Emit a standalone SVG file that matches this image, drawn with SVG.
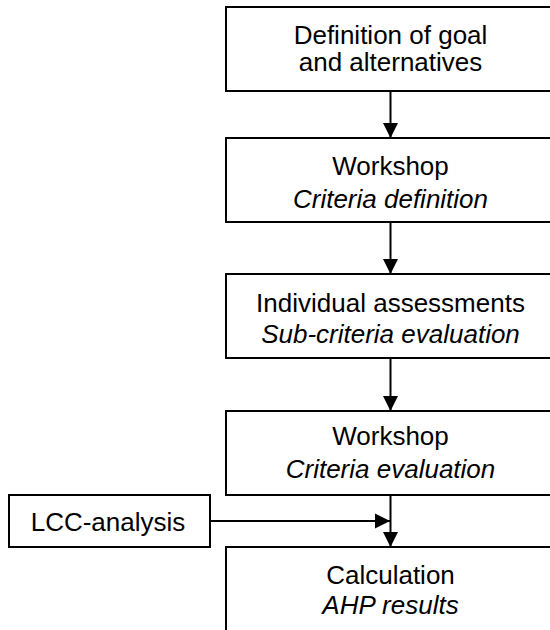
<svg xmlns="http://www.w3.org/2000/svg" width="550" height="630" viewBox="0 0 550 630">
<style>
.box{fill:#fff;stroke:#000;stroke-width:2}
.t{font-family:"Liberation Sans",Arial,sans-serif;font-size:26px;fill:#000;text-anchor:middle}
.i{font-style:italic}
.c{stroke:#000;stroke-width:2;fill:none}
</style>
<defs>
<marker id="ah" markerUnits="userSpaceOnUse" markerWidth="16" markerHeight="16" viewBox="0 0 16 16" refX="15" refY="8" orient="auto">
<path d="M0,0.5 L15,8 L0,15.5 Z" fill="#000"/>
</marker>
</defs>
<rect width="550" height="630" fill="#fff"/>
<g id="connectors">
<line class="c" x1="390.5" y1="91" x2="390.5" y2="138" marker-end="url(#ah)"/>
<line class="c" x1="390.5" y1="222" x2="390.5" y2="274" marker-end="url(#ah)"/>
<line class="c" x1="390.5" y1="358" x2="390.5" y2="411" marker-end="url(#ah)"/>
<line class="c" x1="390.5" y1="495" x2="390.5" y2="547" marker-end="url(#ah)"/>
<line class="c" x1="210" y1="521" x2="390" y2="521" marker-end="url(#ah)"/>
</g>
<g id="n1">
<rect class="box" x="226" y="7" width="330" height="84"/>
<text class="t" x="390.5" y="44">Definition of goal</text>
<text class="t" x="390.5" y="71">and alternatives</text>
</g>
<g id="n2">
<rect class="box" x="226" y="138" width="330" height="84"/>
<text class="t" x="390.5" y="175">Workshop</text>
<text class="t i" x="390.5" y="208">Criteria definition</text>
</g>
<g id="n3">
<rect class="box" x="226" y="274" width="330" height="84"/>
<text class="t" x="390.5" y="312">Individual assessments</text>
<text class="t i" x="390.5" y="343">Sub-criteria evaluation</text>
</g>
<g id="n4">
<rect class="box" x="226" y="411" width="330" height="84"/>
<text class="t" x="390.5" y="445">Workshop</text>
<text class="t i" x="390.5" y="478">Criteria evaluation</text>
</g>
<g id="n5">
<rect class="box" x="226" y="547" width="330" height="90"/>
<text class="t" x="390.5" y="584">Calculation</text>
<text class="t i" x="390.5" y="614">AHP results</text>
</g>
<g id="lcc">
<rect class="box" x="9" y="495" width="201" height="52"/>
<text class="t" x="108" y="530.5">LCC-analysis</text>
</g>
</svg>
